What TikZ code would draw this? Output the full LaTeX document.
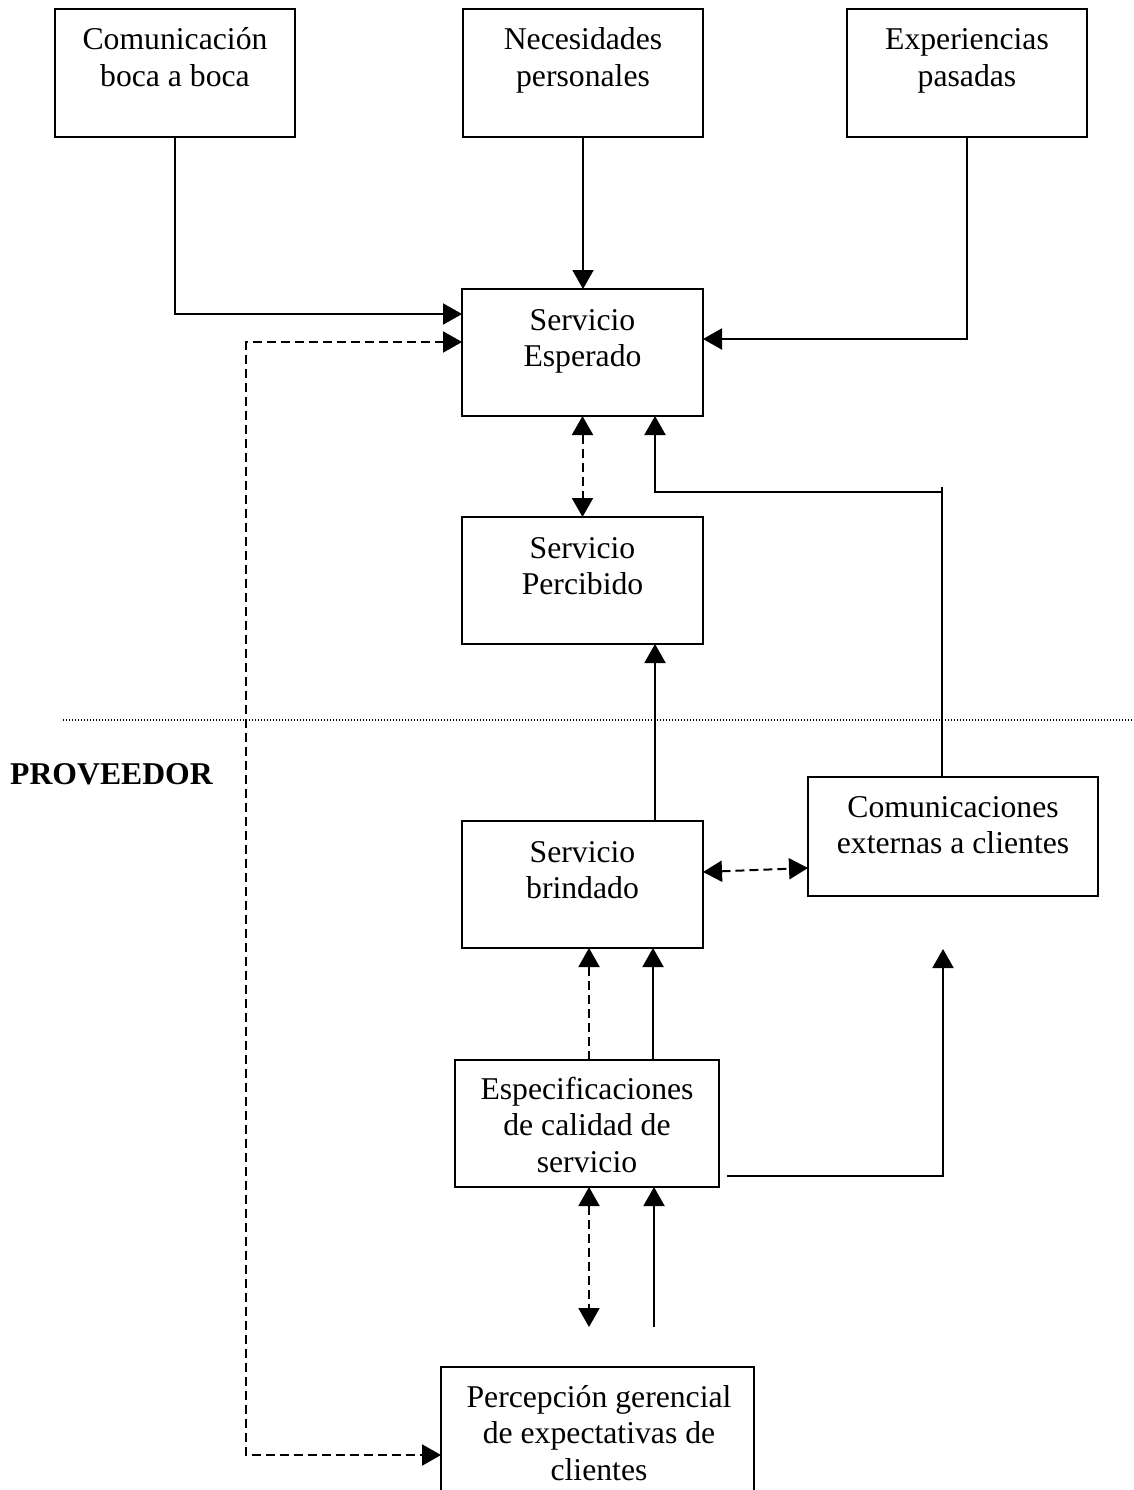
\documentclass[tikz,border=0pt]{standalone}
\usepackage{fontspec}
\setmainfont{Liberation Serif}
\usetikzlibrary{arrows.meta}
\begin{document}
\begin{tikzpicture}[x=1pt,y=-1pt,
  box/.style={draw, line width=2pt, inner sep=0pt, outer sep=0pt, anchor=north west},
  lbl/.style={anchor=base, align=center, inner sep=0pt, font=\fontsize{31.7}{36.5}\selectfont},
  conn/.style={line width=2pt},
  tip/.style={-{Triangle[length=19pt,width=21pt]}},
  both/.style={{Triangle[length=19pt,width=21pt]}-{Triangle[length=19pt,width=21pt]}},
  dsh/.style={dash pattern=on 9pt off 5pt},
]
\useasboundingbox (0,0) rectangle (1134,1490);

% boxes
\node[box, minimum width=240pt, minimum height=128pt] (boca) at (55,9) {};
\node[box, minimum width=240pt, minimum height=128pt] (nec) at (463,9) {};
\node[box, minimum width=240pt, minimum height=128pt] (exp) at (847,9) {};
\node[box, minimum width=241pt, minimum height=127pt] (esp) at (462,289) {};
\node[box, minimum width=241pt, minimum height=127pt] (perc) at (462,517) {};
\node[box, minimum width=241pt, minimum height=127pt] (brin) at (462,821) {};
\node[box, minimum width=290pt, minimum height=119pt] (com) at (808,777) {};
\node[box, minimum width=264pt, minimum height=127pt] (espec) at (455,1060) {};
\node[box, minimum width=313pt, minimum height=160pt] (pger) at (441,1367) {};

% labels (anchor base = baseline of last line)
\node[lbl] (bocaT) at ([yshift=-77.5pt]boca.north) {Comunicación\\boca a boca};
\node[lbl] (necT) at ([yshift=-77.5pt]nec.north) {Necesidades\\personales};
\node[lbl] (expT) at ([yshift=-77.5pt]exp.north) {Experiencias\\pasadas};
\node[lbl] (espT) at ([yshift=-77.5pt]esp.north) {Servicio\\Esperado};
\node[lbl] (percT) at ([yshift=-77.5pt]perc.north) {Servicio\\Percibido};
\node[lbl] (brinT) at ([yshift=-77.5pt]brin.north) {Servicio\\brindado};
\node[lbl] (comT) at ([yshift=-76.5pt]com.north) {Comunicaciones\\externas a clientes};
\node[lbl] (specT) at ([yshift=-112pt]espec.north) {Especificaciones\\de calidad de\\servicio};
\node[lbl] (pgerT) at ([yshift=-113pt,xshift=1.5pt]pger.north) {Percepción gerencial\\de expectativas de\\clientes};

\node[anchor=base west, inner sep=0pt, font=\fontsize{31.7}{36.5}\selectfont\bfseries] (prov) at (10,784) {PROVEEDOR};

% separator
\draw[line width=1.3pt, dash pattern=on 1.3pt off 1.7pt] (63,720) -- (1134,720);

% coordinates for free ends and bends
\coordinate (c1) at (246,342);
\coordinate (c2) at (246,1455);
\coordinate (j0) at (942,487);
\coordinate (j1) at (942,492);
\coordinate (d1) at (589,1327);
\coordinate (s1) at (654,1327);
\coordinate (r1) at (727,1176);
\coordinate (r2) at (943,949);

% connectors
\draw[conn,tip] (boca.south) |- ([yshift=38.5pt]esp.west);
\draw[conn,tip] (nec.south) -- (nec.south |- esp.north);
\draw[conn,tip] (exp.south) |- ([yshift=13.5pt]esp.east);
\draw[conn,dsh,both] ([yshift=10.5pt]esp.west) -- (c1) -- (c2) -- (c2 -| pger.west);
\draw[conn,dsh,both] (esp.south) -- (perc.north);
\draw[conn] ([xshift=-11pt]com.north) -- (j0);
\draw[conn,tip] (j1) -| ([xshift=72.5pt]esp.south);
\draw[conn,tip] ([xshift=72.5pt]brin.north) -- ([xshift=72.5pt]perc.south);
\draw[conn,dsh,both] ([yshift=12.5pt]brin.east) -- ([yshift=-31.5pt]com.west);
\draw[conn,dsh,tip] ([xshift=2pt]espec.north) -- ([xshift=2pt]espec.north |- brin.south);
\draw[conn,tip] ([xshift=66pt]espec.north) -- ([xshift=66pt]espec.north |- brin.south);
\draw[conn,dsh,both] (d1 |- espec.south) -- (d1);
\draw[conn,tip] (s1) -- (s1 |- espec.south);
\draw[conn,tip] (r1) -| (r2);
\end{tikzpicture}
\end{document}
